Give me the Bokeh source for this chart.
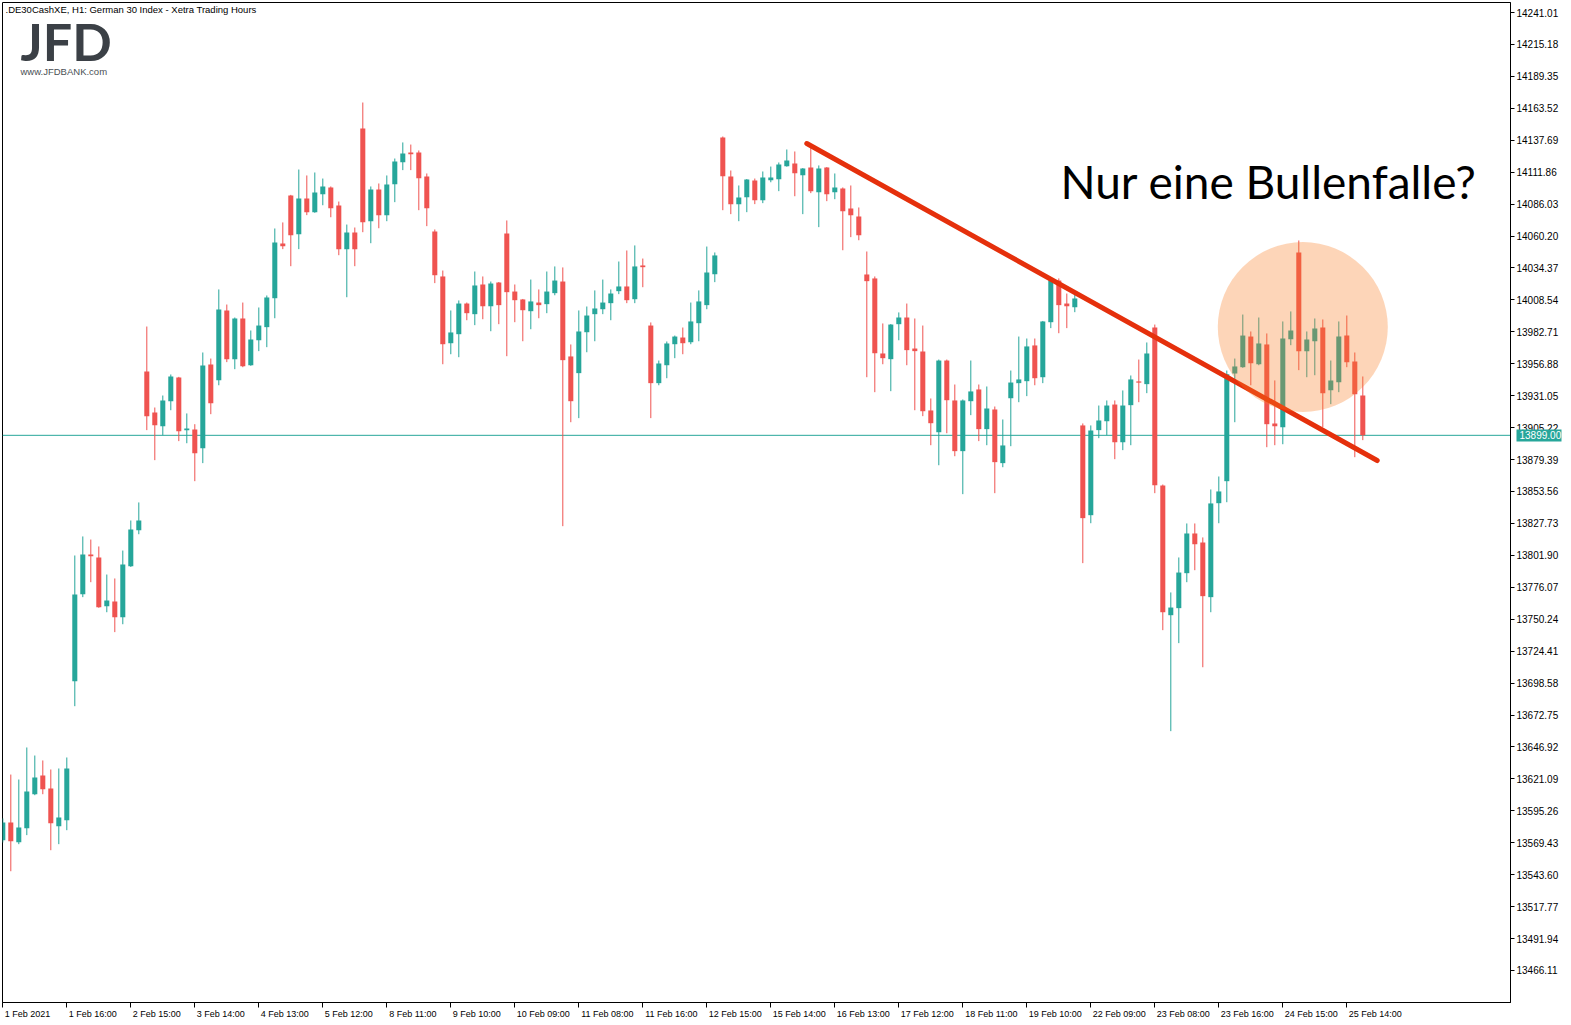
from bokeh.plotting import figure
from bokeh.models import (Range1d, FixedTicker, PrintfTickFormatter, CustomJSTickFormatter,
                          Label, Span, LinearAxis)
from bokeh.embed import file_html
from bokeh.resources import INLINE

# ---------------- data (DE30 hourly, 1-25 Feb 2021) ----------------
open_ = [13571.5, 13585.8, 13569.9, 13581.2, 13608.7, 13623.8, 13613.3, 13582.8, 13587.7, 13700.1,
         13770.5, 13802.6, 13800.2, 13760.8, 13764.6, 13751.9, 13793.1, 13822.3, 13950.6, 13917.5,
         13906.4, 13926.6, 13945.8, 13903.2, 13903.7, 13888.6, 13956.3, 13943.6, 14000.0, 13960.6,
         13993.5, 13955.7, 13975.9, 13986.5, 14009.9, 14054.2, 14093.0, 14061.7, 14090.6, 14079.5,
         14094.0, 14099.5, 14084.9, 14049.6, 14063.1, 14147.2, 14072.2, 14097.8, 14077.1, 14102.1,
         14119.9, 14127.8, 14127.8, 14108.4, 14063.9, 14027.5, 13973.5, 13980.8, 14005.6, 13997.0,
         14021.0, 14003.4, 14022.6, 14062.3, 14015.3, 14008.9, 13999.4, 14006.4, 14005.1, 14014.0,
         14023.4, 13962.8, 13949.3, 13982.4, 13997.0, 14001.0, 14005.9, 14015.6, 14019.4, 14009.1,
         14036.4, 13987.8, 13941.2, 13955.7, 13972.7, 13978.1, 13974.3, 13989.7, 14004.3, 14029.3,
         14139.9, 14108.4, 14086.0, 14091.6, 14105.1, 14089.2, 14105.4, 14106.2, 14116.7, 14118.9,
         14109.4, 14115.6, 14095.7, 14115.6, 14095.7, 14098.7, 14082.5, 14076.0, 14029.1, 14025.9,
         13965.2, 13960.6, 13988.9, 13994.3, 13969.2, 13966.8, 13919.1, 13901.5, 13959.5, 13927.2,
         13886.2, 13926.6, 13936.1, 13904.0, 13919.9, 13876.5, 13929.0, 13941.2, 13942.8, 13971.7,
         13946.0, 13990.5, 14024.2, 14005.6, 14002.6, 13907.0, 13834.4, 13903.2, 13910.4, 13923.9,
         13893.4, 13923.4, 13942.5, 13940.4, 13986.2, 13858.4, 13753.5, 13759.2, 13787.5, 13819.6,
         13812.3, 13768.1, 13844.1, 13861.9, 13949.0, 13954.1, 13978.9, 13956.5, 13972.5, 13908.6,
         13905.6, 13976.8, 14046.9, 13967.1, 13975.1, 13986.2, 13935.5, 13942.0, 13979.7, 13958.7,
         13931.2]
high = [13589.1, 13624.6, 13620.6, 13646.5, 13640.0, 13636.0, 13628.7, 13629.5, 13638.4, 13801.8,
        13817.2, 13814.7, 13809.1, 13786.4, 13783.2, 13805.8, 13830.1, 13844.7, 13987.0, 13921.5,
        13931.2, 13948.2, 13946.3, 13916.7, 13908.0, 13966.0, 13961.1, 14017.0, 14004.8, 13994.3,
        14006.4, 13983.8, 14002.4, 14012.1, 14066.3, 14071.2, 14093.5, 14114.0, 14109.2, 14111.6,
        14106.7, 14100.3, 14088.1, 14069.5, 14067.1, 14168.2, 14100.3, 14102.7, 14109.2, 14122.9,
        14135.9, 14134.2, 14129.4, 14110.8, 14065.5, 14032.3, 14000.0, 14008.1, 14006.4, 14031.5,
        14027.5, 14023.4, 14023.0, 14072.8, 14021.0, 14009.3, 14025.0, 14017.0, 14031.5, 14035.6,
        14034.8, 13972.5, 14000.0, 14003.2, 14016.2, 14025.0, 14017.0, 14039.6, 14048.5, 14052.6,
        14042.0, 13990.3, 13959.5, 13974.9, 13979.7, 13986.2, 14006.4, 14016.2, 14051.7, 14046.9,
        14140.7, 14113.2, 14101.1, 14106.3, 14106.7, 14112.4, 14116.4, 14119.7, 14130.2, 14128.6,
        14115.2, 14131.8, 14117.3, 14116.0, 14110.8, 14099.5, 14101.1, 14083.3, 14047.7, 14027.5,
        13989.5, 13989.0, 13998.4, 14005.6, 13993.5, 13987.8, 13928.8, 13960.3, 13960.3, 13940.1,
        13928.0, 13959.5, 13940.1, 13938.5, 13922.3, 13911.8, 13951.4, 13978.9, 13977.3, 13977.3,
        13991.5, 14025.9, 14025.9, 14013.7, 14013.7, 13908.6, 13907.0, 13923.1, 13927.2, 13927.2,
        13935.3, 13947.4, 13960.3, 13974.1, 13988.6, 13859.2, 13771.9, 13800.2, 13827.7, 13827.7,
        13816.4, 13855.2, 13865.7, 13951.4, 13961.1, 13996.7, 13983.0, 13994.3, 13981.4, 13943.4,
        13991.1, 13999.2, 14056.6, 13983.0, 13993.5, 13992.7, 13959.5, 13991.1, 13995.9, 13966.0,
        13946.6]
low = [13569.6, 13546.4, 13568.3, 13575.6, 13607.9, 13608.7, 13563.4, 13568.3, 13579.6, 13679.9,
       13768.1, 13780.2, 13759.5, 13755.9, 13739.8, 13746.2, 13792.5, 13819.0, 13903.2, 13878.9,
       13899.1, 13919.3, 13894.3, 13892.6, 13861.9, 13876.5, 13916.1, 13939.5, 13958.2, 13952.5,
       13954.1, 13955.2, 13967.1, 13970.3, 13993.7, 14049.6, 14035.8, 14049.6, 14077.1, 14079.0,
       14085.1, 14075.4, 14044.7, 14010.7, 14035.8, 14063.3, 14054.4, 14066.5, 14072.2, 14087.6,
       14113.5, 14113.5, 14081.1, 14068.2, 14022.1, 13956.5, 13964.6, 13962.2, 13992.1, 13988.1,
       13992.9, 13983.2, 13988.9, 13963.0, 13990.5, 13975.1, 13984.8, 13993.7, 13997.8, 14012.3,
       13825.5, 13909.6, 13912.9, 13966.2, 13975.1, 13997.0, 13992.1, 14013.2, 14005.9, 14005.9,
       14018.8, 13912.9, 13939.5, 13945.2, 13961.4, 13964.6, 13972.7, 13975.1, 14001.0, 14022.9,
       14081.1, 14077.9, 14072.2, 14079.5, 14086.0, 14086.8, 14103.7, 14096.5, 14116.3, 14092.4,
       14077.9, 14094.9, 14067.4, 14088.4, 14090.0, 14048.7, 14059.3, 14056.8, 13946.0, 13933.9,
       13956.5, 13934.7, 13975.9, 13955.7, 13919.3, 13914.5, 13891.0, 13874.8, 13900.7, 13882.1,
       13851.4, 13915.3, 13894.3, 13891.0, 13852.2, 13873.2, 13890.2, 13925.8, 13930.7, 13939.5,
       13941.2, 13985.7, 13981.6, 13985.7, 13998.6, 13795.6, 13827.9, 13896.7, 13899.1, 13879.7,
       13887.0, 13891.0, 13925.8, 13933.1, 13852.2, 13741.4, 13659.7, 13730.9, 13780.2, 13789.9,
       13711.4, 13755.9, 13827.9, 13844.9, 13909.6, 13953.6, 13939.5, 13955.7, 13889.4, 13891.0,
       13891.8, 13971.9, 13951.7, 13946.0, 13947.6, 13905.6, 13924.2, 13933.9, 13954.1, 13881.3,
       13895.1]
close = [13585.8, 13570.7, 13581.8, 13610.9, 13622.2, 13612.8, 13585.3, 13589.9, 13629.5, 13770.3,
         13802.6, 13801.2, 13760.0, 13765.4, 13751.9, 13794.5, 13822.8, 13830.1, 13914.5, 13907.2,
         13927.2, 13946.6, 13902.3, 13904.5, 13884.5, 13955.5, 13925.0, 14000.8, 13960.6, 13993.5,
         13954.9, 13976.5, 13987.8, 14010.5, 14055.0, 14052.0, 14060.9, 14090.6, 14079.5, 14095.4,
         14100.3, 14082.7, 14049.6, 14063.1, 14049.6, 14071.4, 14097.8, 14077.1, 14101.9, 14120.5,
         14127.0, 14126.4, 14107.0, 14082.7, 14028.5, 13972.7, 13982.2, 14005.6, 13997.8, 14020.2,
         14003.4, 14021.8, 14004.3, 14014.8, 14008.3, 14000.2, 14007.3, 14004.3, 14015.3, 14024.2,
         13959.8, 13926.6, 13983.0, 13995.9, 14001.6, 14006.4, 14013.7, 14019.4, 14008.3, 14035.6,
         14035.0, 13941.2, 13957.1, 13973.3, 13978.9, 13973.5, 13991.1, 14007.3, 14030.7, 14044.5,
         14108.6, 14086.0, 14091.4, 14105.9, 14089.2, 14107.5, 14107.5, 14118.1, 14121.3, 14111.0,
         14114.8, 14096.5, 14114.8, 14094.0, 14099.5, 14080.3, 14077.1, 14060.9, 14023.7, 13965.4,
         13961.4, 13988.6, 13994.3, 13967.9, 13967.1, 13918.5, 13908.8, 13959.5, 13927.4, 13886.2,
         13927.2, 13934.5, 13904.0, 13920.7, 13877.3, 13890.8, 13941.7, 13944.2, 13970.9, 13945.2,
         13991.1, 14024.2, 14004.3, 14003.4, 14009.7, 13832.0, 13902.9, 13911.0, 13923.1, 13893.4,
         13923.1, 13944.2, 13941.7, 13965.2, 13858.7, 13755.9, 13759.7, 13788.0, 13819.6, 13810.9,
         13768.9, 13843.9, 13853.6, 13948.4, 13954.7, 13979.7, 13957.3, 13973.3, 13908.0, 13906.4,
         13977.3, 13983.8, 13967.1, 13976.5, 13985.4, 13933.1, 13943.4, 13978.9, 13958.2, 13932.3,
         13899.0]

time_labels = ["1 Feb 2021", "1 Feb 16:00", "2 Feb 15:00", "3 Feb 14:00", "4 Feb 13:00",
               "5 Feb 12:00", "8 Feb 11:00", "9 Feb 10:00", "10 Feb 09:00", "11 Feb 08:00",
               "11 Feb 16:00", "12 Feb 15:00", "15 Feb 14:00", "16 Feb 13:00", "17 Feb 12:00",
               "18 Feb 11:00", "19 Feb 10:00", "22 Feb 09:00", "23 Feb 08:00", "23 Feb 16:00",
               "24 Feb 15:00", "25 Feb 14:00"]
label_bars = [0, 8, 16, 24, 32, 40, 48, 56, 64, 72, 80, 88, 96, 104, 112, 120, 128, 136,
              144, 152, 160, 168]
price_ticks = [14241.01, 14215.18, 14189.35, 14163.52, 14137.69, 14111.86, 14086.03, 14060.20,
               14034.37, 14008.54, 13982.71, 13956.88, 13931.05, 13905.22, 13879.39, 13853.56,
               13827.73, 13801.90, 13776.07, 13750.24, 13724.41, 13698.58, 13672.75, 13646.92,
               13621.09, 13595.26, 13569.43, 13543.60, 13517.77, 13491.94, 13466.11]
last_price = 13899.00
trend_x = [100.5, 171.8]
trend_y = [14135.0, 13878.6]
zone_x = [162.5]
zone_y = [13986.6]

symbol_title = ".DE30CashXE, H1:  German 30 Index  - Xetra Trading Hours"
headline = "Nur eine Bullenfalle?"

# ---------------- styling / layout ----------------
BULL = "#26a69a"
BEAR = "#ef5350"
AXIS_FONT = "Liberation Sans"

W, H = 1571, 1025
FL, FT, FR, FB = 2, 2, 1510, 1002          # frame edges in canvas pixels
X0, X1 = -0.0375, 188.4625                 # bar-index range of the frame
Y0, Y1 = 13440.22, 14249.10                # price range of the frame
PX_PER_BAR = (FR - FL) / (X1 - X0)

p = figure(width=W, height=H, output_backend="svg", toolbar_location=None,
           x_range=Range1d(X0, X1), y_range=Range1d(Y0, Y1),
           y_axis_location="right", title=None,
           min_border_left=FL, min_border_top=FT, min_border_right=W - FR,
           min_border_bottom=H - FB)
p.background_fill_color = "white"
p.border_fill_color = "white"
p.outline_line_color = "black"
p.outline_line_width = 1
p.outline_line_alpha = 1.0
p.xgrid.visible = False
p.ygrid.visible = False

# price line (under candles)
p.add_layout(Span(location=last_price, dimension="width", line_color=BULL,
                  line_width=1, level="underlay"))

n = len(open_)
xs = list(range(n))
cols = [BULL if c >= o else BEAR for o, c in zip(open_, close)]
tops, bots = [], []
for o, c in zip(open_, close):
    t, b = max(o, c), min(o, c)
    if t - b < 1.0:
        m = (t + b) / 2
        t, b = m + 0.5, m - 0.5
    tops.append(t)
    bots.append(b)

p.segment(x0=xs, y0=low, x1=xs, y1=high, line_color=cols, line_width=1)
p.vbar(x=xs, top=tops, bottom=bots, width=0.63, fill_color=cols, line_color=None)

# trend line and highlight zone
p.line(trend_x, trend_y, line_color="#e5300c", line_width=5, line_cap="round")
p.scatter(x=zone_x, y=zone_y, marker="circle", size=170, fill_color="#f87d23",
          fill_alpha=0.32, line_color=None)

# ---------------- right price axis ----------------
ya = p.yaxis[0]
ya.ticker = FixedTicker(ticks=price_ticks)
ya.formatter = PrintfTickFormatter(format="%.2f")
ya.major_tick_out = 4
ya.major_tick_in = 0
ya.minor_tick_out = 0
ya.minor_tick_in = 0
ya.axis_line_color = "black"
ya.major_tick_line_color = "black"
ya.major_label_text_font = AXIS_FONT
ya.major_label_text_font_size = "10px"
ya.major_label_text_color = "black"
ya.major_label_standoff = 2

# current price tag: an outer right axis whose inward tick forms the teal box and whose
# label is pulled back over it
TAG_LEN = 45
tag_axis = LinearAxis(ticker=FixedTicker(ticks=[last_price]),
                      formatter=PrintfTickFormatter(format="%.2f"),
                      axis_line_color=None, major_tick_out=0, major_tick_in=TAG_LEN,
                      major_tick_line_color=BULL, major_tick_line_width=12,
                      major_tick_line_cap="butt", minor_tick_out=0, minor_tick_in=0,
                      major_label_standoff=-(TAG_LEN - 3), major_label_text_font=AXIS_FONT,
                      major_label_text_font_size="10px", major_label_text_color="white")
p.add_layout(tag_axis, "right")

# ---------------- bottom time axis ----------------
xa = p.xaxis[0]
xa.ticker = FixedTicker(ticks=label_bars)
xa.formatter = CustomJSTickFormatter(code="return ''")
xa.major_tick_out = 5
xa.major_tick_in = 0
xa.minor_tick_out = 0
xa.minor_tick_in = 0
xa.axis_line_color = "black"
xa.major_tick_line_color = "black"
xa.major_label_standoff = 0
xa.major_label_text_font_size = "1px"

# labels are left-aligned just right of their tick (as MetaTrader draws them)
CHAR_W = {d: 0.556 for d in "0123456789"}
CHAR_W.update({" ": 0.278, ":": 0.278, "F": 0.611, "e": 0.556, "b": 0.556})
LBL_PX = 9.0
label_pos = []
for b, t in zip(label_bars, time_labels):
    w = sum(CHAR_W.get(ch, 0.556) for ch in t) * LBL_PX
    label_pos.append(b + (2.0 + w / 2.0) / PX_PER_BAR)

time_axis = LinearAxis(ticker=FixedTicker(ticks=label_pos),
                       formatter=CustomJSTickFormatter(
                           args=dict(labels=time_labels, pos=label_pos),
                           code="""
let best = 0;
for (let i = 0; i < pos.length; i++) {
  if (Math.abs(pos[i] - tick) < Math.abs(pos[best] - tick)) best = i;
}
return labels[best];
"""),
                       axis_line_color=None, major_tick_in=0, major_tick_out=0,
                       major_tick_line_color=None, minor_tick_out=0, minor_tick_in=0,
                       major_label_standoff=1, major_label_text_font=AXIS_FONT,
                       major_label_text_font_size=f"{LBL_PX}px", major_label_text_color="black")
p.add_layout(time_axis, "below")

# ---------------- texts inside the chart ----------------
BASE_SHIFT = 0.43   # alphabetic-baseline correction (fraction of font size)


def add_text(txt, x_px, base_px, size, font, color, style="normal"):
    p.add_layout(Label(x=x_px - FL, y=(FB - base_px) + BASE_SHIFT * size,
                       x_units="screen", y_units="screen", text=txt,
                       text_align="left", text_baseline="alphabetic", text_font=font,
                       text_font_style=style, text_font_size=f"{size}px", text_color=color))


add_text(symbol_title, 5, 13, 9.5, AXIS_FONT, "black")
add_text("JFD", 20, 63, 52, "Lato", "#3b4046", "bold")
add_text("www.JFDBANK.com", 20, 75, 9.5, AXIS_FONT, "#4a4f55")
add_text(headline, 1060, 201, 46, "Lato", "black")

open("out.html", "w").write(file_html(p, INLINE))
